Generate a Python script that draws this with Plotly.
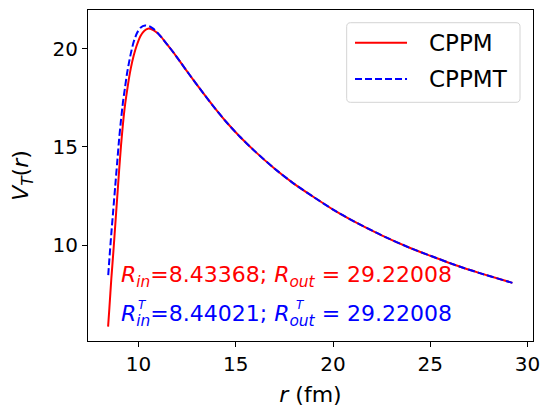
import plotly.graph_objects as go

# Total potential V_T(r) for the two models, r in fm
r_cppm = [8.43368, 8.5, 8.6, 8.7, 8.8, 8.9, 9.0, 9.1, 9.2, 9.3, 9.4, 9.5, 9.6,
          9.75, 9.9, 10.1, 10.3, 10.48, 10.7, 10.9, 11.12, 11.4, 11.8, 12.2,
          12.63, 13.2, 13.86, 14.5, 15.2, 16.0, 17.0, 18.0, 19.0, 20.0, 21.0,
          22.5, 24.0, 25.0, 26.5, 27.5, 29.22008]
v_cppm = [5.85, 6.8, 8.3, 9.6, 11.0, 12.4, 13.8, 15.1, 16.2, 17.1, 17.8, 18.45, 19.0,
          19.65, 20.15, 20.65, 20.92, 21.02, 20.98, 20.85, 20.65, 20.30, 19.80, 19.25,
          18.66, 17.90, 17.05, 16.28, 15.53, 14.76, 13.89, 13.12, 12.45, 11.81, 11.25,
          10.50, 9.84, 9.46, 8.91, 8.59, 8.08]

r_cppmt = [8.44021, 8.5, 8.6, 8.7, 8.8, 8.9, 9.0, 9.1, 9.2, 9.3, 9.4, 9.5, 9.6,
           9.75, 9.92, 10.1, 10.34, 10.55, 10.75, 10.95, 11.2, 11.5, 11.8, 12.2,
           12.63, 13.2, 13.86, 14.5, 15.2, 16.0, 17.0, 18.0, 19.0, 20.0, 21.0,
           22.5, 24.0, 25.0, 26.5, 27.5, 29.22008]
v_cppmt = [8.47, 9.3, 10.6, 11.8, 13.0, 14.2, 15.4, 16.4, 17.3, 18.0, 18.7, 19.25, 19.75,
           20.35, 20.8, 21.07, 21.18, 21.14, 21.02, 20.84, 20.55, 20.18, 19.80, 19.25,
           18.66, 17.90, 17.05, 16.28, 15.53, 14.76, 13.89, 13.12, 12.45, 11.81, 11.25,
           10.50, 9.84, 9.46, 8.91, 8.59, 8.08]

series_names = ["CPPM", "CPPMT"]
series_colors = ["red", "blue"]
series_dash = ["solid", "7px,3px"]

x_ticks = [10, 15, 20, 25, 30]
y_ticks = [10, 15, 20]

FONT = "DejaVu Sans"

fig = go.Figure()
for name, xs, ys, col, dash in zip(series_names, [r_cppm, r_cppmt], [v_cppm, v_cppmt],
                                   series_colors, series_dash):
    fig.add_trace(go.Scatter(x=xs, y=ys, mode="lines", name=name, showlegend=False,
                             line=dict(color=col, width=2, dash=dash,
                                       shape="spline", smoothing=0.6)))

axis_common = dict(showgrid=False, zeroline=False, showline=True, linecolor="black",
                   linewidth=1, mirror=True, ticks="outside", ticklen=5, tickwidth=1,
                   tickcolor="black", automargin=False,
                   tickfont=dict(family=FONT, size=20, color="black"))

fig.update_xaxes(range=[7.40, 30.28], tickvals=x_ticks,
                 title=dict(text="<i>r</i> (fm)", font=dict(family=FONT, size=22, color="black"),
                            standoff=16),
                 **axis_common)
fig.update_yaxes(range=[5.12, 21.97], tickvals=y_ticks,
                 title=dict(text="<i>V</i><sub><i>T</i></sub>(<i>r</i>)",
                            font=dict(family=FONT, size=22, color="black"), standoff=17),
                 **axis_common)

# radius labels
ann_font = 22
fig.add_annotation(x=9.0, y=8.0, xref="x", yref="y", xanchor="left", yanchor="middle",
                   yshift=8,
                   text="<i>R</i><sub><i>in</i></sub>=8.43368; <i>R</i><sub><i>out</i></sub> = 29.22008",
                   showarrow=False, font=dict(family=FONT, size=ann_font, color="red"))
fig.add_annotation(x=9.0, y=6.0, xref="x", yref="y", xanchor="left", yanchor="middle",
                   yshift=8,
                   text="<i>R</i><sub><i>in</i></sub>=8.44021; <i>R</i><sub><i>out</i></sub> = 29.22008",
                   showarrow=False, font=dict(family=FONT, size=ann_font, color="blue"))
# superscript T stacked above the subscripts
for tx in (9.85, 17.98):
    fig.add_annotation(x=tx, y=6.95, xref="x", yref="y", xanchor="left", yanchor="middle",
                       text="<i>T</i>", showarrow=False,
                       font=dict(family=FONT, size=12, color="blue"))

# legend box (rounded frame) in the upper right of the axes
bx0, bx1, by0, by1 = 0.5813, 0.9708, 0.7211, 0.9616
rx, ry = 0.009, 0.0121
box_path = (f"M {bx0 + rx},{by1} L {bx1 - rx},{by1} Q {bx1},{by1} {bx1},{by1 - ry} "
            f"L {bx1},{by0 + ry} Q {bx1},{by0} {bx1 - rx},{by0} "
            f"L {bx0 + rx},{by0} Q {bx0},{by0} {bx0},{by0 + ry} "
            f"L {bx0},{by1 - ry} Q {bx0},{by1} {bx0 + rx},{by1} Z")
fig.add_shape(type="path", path=box_path, xref="paper", yref="paper",
              line=dict(color="#d4d4d4", width=1), fillcolor="rgba(255,255,255,0.8)")
legend_rows = [0.9012, 0.7915]
for name, col, dash, ly in zip(series_names, series_colors, series_dash, legend_rows):
    fig.add_shape(type="line", x0=0.600, x1=0.7169, y0=ly, y1=ly, xref="paper", yref="paper",
                  line=dict(color=col, width=2, dash=dash))
    fig.add_annotation(x=0.7611, y=ly, xref="paper", yref="paper", xanchor="left",
                       yanchor="middle", text=name, showarrow=False,
                       font=dict(family=FONT, size=23, color="black"))

fig.update_layout(
    width=542, height=407,
    margin=dict(l=88, r=9, t=10, b=66),
    paper_bgcolor="white", plot_bgcolor="white",
    showlegend=False,
)

fig.write_html("out.html")
